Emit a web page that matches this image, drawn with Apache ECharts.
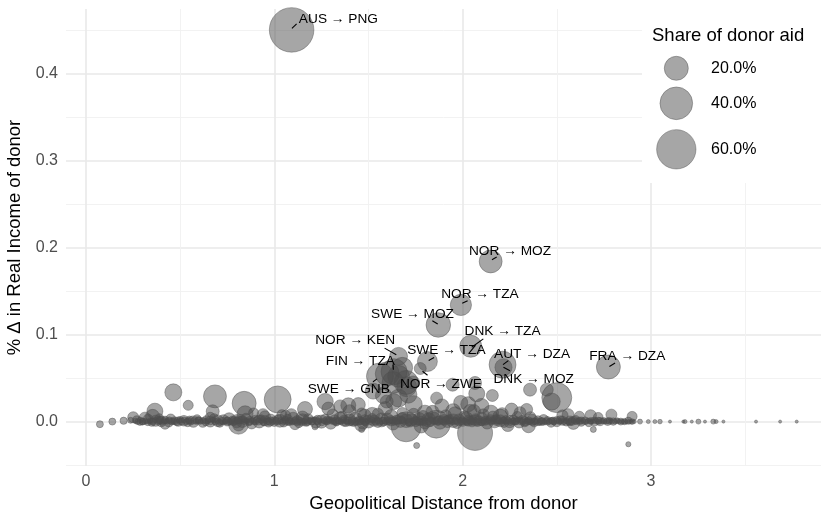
<!DOCTYPE html>
<html><head><meta charset="utf-8">
<script src="https://cdn.jsdelivr.net/npm/echarts@6/dist/echarts.min.js"></script>
<style>html,body{margin:0;padding:0;background:#fff}#c{width:821px;height:512px}</style>
</head><body><div id="c"></div>
<script>
// ---- data: [geopolitical distance, % change in real income of donor, share of donor aid (%)] ----
const labelNames = ['AUS → PNG','NOR → MOZ','NOR → TZA','SWE → MOZ','DNK → TZA','SWE → TZA','AUT → DZA','DNK → MOZ','FRA → DZA','NOR → KEN','FIN → TZA','SWE → GNB','NOR → ZWE'];
const labelX = [1.092, 2.149, 1.991, 1.871, 2.043, 1.813, 2.212, 2.217, 2.774, 1.660, 1.636, 1.561, 1.775];
const labelY = [0.450, 0.184, 0.134, 0.111, 0.0866, 0.069, 0.0654, 0.0625, 0.0627, 0.075, 0.0573, 0.052, 0.061];
const labelShare = [78.5, 18, 15, 21, 16.4, 13, 26, 9, 20, 10, 24, 26, 3.6];

const bubblePoints = [
 [0.074,-0.003,0.7],[0.14,0.000,0.7],[0.251,0.005,2.9],[0.237,0.0015,0.4],[0.287,-0.001,0.4],
 [0.313,0.004,3.6],[0.366,0.012,7.6],[0.354,0.006,5.5],[0.393,0.002,1.1],[0.464,0.0336,8.9],
 [0.543,0.0187,2.2],[0.685,0.029,18],[0.673,0.0118,4.5],[0.66,0.005,2.2],[0.84,0.021,20],
 [0.845,0.009,7.6],[0.81,-0.003,13],[0.89,0.010,2.2],[0.94,0.008,3.6],[1.018,0.0255,26],
 [1.04,0.008,2.2],[1.09,0.008,3.6],[1.163,0.0145,6.5],[1.216,-0.006,0.4],[1.27,0.023,8],
 [1.287,0.015,4.5],[1.35,0.0175,4.5],[1.393,0.0187,6.5],[1.40,0.012,4.5],[1.446,0.0195,5.5],
 [1.464,0.010,2.2],[1.464,-0.009,0.4],[1.525,0.035,7.6],[1.597,0.023,4.5],[1.59,0.015,5.5],
 [1.634,0.023,7.6],[1.66,0.027,10],[1.66,0.052,16],[1.70,0.045,20],[1.703,0.040,13],
 [1.712,0.031,8.9],[1.737,0.045,4.5],[1.70,-0.006,33],[1.756,-0.0275,0.4],[1.862,0.027,3.6],
 [1.86,-0.003,28],[1.89,0.018,5.5],[1.947,0.0424,4.5],[1.99,0.022,5.5],[2.066,0.0444,4.5],
 [2.075,0.032,7.6],[2.03,0.020,6.5],[2.10,0.018,6.5],[2.04,0.012,5.0],[2.158,0.030,3.6],
 [2.066,-0.013,46.6],[2.26,0.0138,4.5],[2.305,0.0103,3.6],[2.34,0.014,3.6],[2.358,0.0367,4.5],
 [2.447,0.0367,4.5],[2.473,0.023,9],[2.50,0.0275,33],[2.56,0.008,3.6],[2.588,-0.0015,4.5],
 [2.694,-0.009,0.4],[2.79,0.008,2.9],[2.90,0.006,2.2],[2.88,-0.026,0.2],
 [1.60,0.055,20],[1.68,0.062,14],[1.63,0.045,16],[1.58,0.030,8],[1.74,0.020,9],
 [1.52,0.008,6],[1.80,0.010,7],[1.95,0.012,6.5],[2.15,0.010,7],[2.20,0.006,6]
];

const bandPoints = [
 [0.20,0.001,0.8],[0.27,0.002,1.2],[0.30,0.000,0.6],[0.33,0.003,2.0],[0.35,-0.001,1.0],[0.37,0.001,3.0],
 [0.39,0.004,1.5],[0.40,0.000,2.4],[0.42,0.002,0.9],[0.44,-0.001,1.6],[0.45,0.003,2.2],[0.47,0.001,1.1],
 [0.49,0.000,1.8],[0.50,0.002,0.7],[0.52,0.001,2.6],[0.54,-0.001,1.3],[0.55,0.002,1.0],[0.57,0.000,3.2],
 [0.59,0.003,1.4],[0.60,0.001,0.8],[0.62,-0.001,2.0],[0.64,0.002,1.2],[0.66,0.000,2.8],[0.68,0.004,1.6],
 [0.70,0.001,3.4],[0.71,-0.002,1.1],[0.73,0.002,2.3],[0.75,0.000,1.5],[0.76,0.003,4.0],[0.78,0.001,1.9],
 [0.80,-0.001,2.7],[0.81,0.002,1.2],[0.83,0.000,3.6],[0.85,0.004,2.1],[0.87,0.001,1.4],[0.88,-0.002,3.0],
 [0.90,0.002,1.8],[0.92,0.000,4.2],[0.93,0.003,1.3],[0.95,0.001,2.5],[0.97,-0.001,1.7],[0.98,0.002,3.3],
 [1.00,0.000,2.0],[1.02,0.003,1.2],[1.03,0.001,4.4],[1.05,-0.001,1.6],[1.07,0.002,2.9],[1.08,0.000,1.1],
 [1.10,0.004,3.5],[1.12,0.001,2.2],[1.13,-0.002,1.4],[1.15,0.002,3.8],[1.17,0.000,1.9],[1.18,0.003,2.6],
 [1.20,0.001,1.0],[1.22,-0.001,3.1],[1.23,0.002,1.7],[1.25,0.000,4.6],[1.27,0.003,2.0],[1.28,0.001,1.3],
 [1.30,-0.002,3.4],[1.32,0.002,2.3],[1.33,0.000,1.5],[1.35,0.004,4.1],[1.37,0.001,2.8],[1.38,-0.001,1.2],
 [1.40,0.002,3.7],[1.42,0.000,2.0],[1.43,0.003,5.0],[1.45,0.001,1.6],[1.47,-0.002,3.2],[1.48,0.002,2.4],
 [1.50,0.000,4.3],[1.52,0.004,1.8],[1.53,0.001,3.0],[1.55,-0.001,2.2],[1.57,0.002,5.4],[1.58,0.000,1.4],
 [1.60,0.003,3.6],[1.62,0.001,2.5],[1.63,-0.002,4.8],[1.65,0.002,1.9],[1.67,0.000,3.3],[1.68,0.004,2.7],
 [1.70,0.001,5.2],[1.72,-0.001,1.7],[1.73,0.002,3.9],[1.75,0.000,2.3],[1.77,0.003,4.5],[1.78,0.001,1.5],
 [1.80,-0.002,3.1],[1.82,0.002,5.6],[1.83,0.000,2.0],[1.85,0.004,3.4],[1.87,0.001,1.8],[1.88,-0.001,4.9],
 [1.90,0.002,2.6],[1.92,0.000,3.7],[1.93,0.003,1.6],[1.95,0.001,5.1],[1.97,-0.002,2.4],[1.98,0.002,3.5],
 [2.00,0.000,1.9],[2.02,0.004,4.4],[2.03,0.001,2.8],[2.05,-0.001,1.5],[2.07,0.002,3.9],[2.08,0.000,2.1],
 [2.10,0.003,4.7],[2.12,0.001,1.7],[2.13,-0.002,3.2],[2.15,0.002,2.5],[2.17,0.000,4.0],[2.18,0.003,1.6],
 [2.20,0.001,3.6],[2.22,-0.001,2.2],[2.23,0.002,1.4],[2.25,0.000,3.8],[2.27,0.002,2.0],[2.28,0.001,1.2],
 [2.30,-0.001,2.9],[2.32,0.002,1.8],[2.33,0.000,2.4],[2.35,0.001,1.1],[2.37,0.002,3.0],[2.38,-0.001,1.5],
 [2.40,0.001,2.1],[2.42,0.000,1.0],[2.43,0.002,2.6],[2.45,0.001,1.3],[2.47,-0.001,1.9],[2.48,0.001,0.9],
 [2.50,0.000,2.3],[2.52,0.002,1.2],[2.53,0.001,1.7],[2.55,-0.001,0.8],[2.57,0.001,2.0],[2.58,0.000,1.1],
 [2.60,0.002,1.5],[2.62,0.001,0.7],[2.63,0.000,1.8],[2.65,0.001,1.0],[2.67,-0.001,1.3],[2.68,0.001,0.6],
 [2.70,0.000,1.6],[2.72,0.001,0.8],[2.73,0.000,1.2],[2.75,0.001,0.5],[2.77,0.000,1.0],[2.78,0.001,0.6],
 [2.80,0.000,0.9],[2.82,0.001,0.4],[2.84,0.000,0.7],[2.86,0.000,0.5],[2.88,0.001,0.8],[2.90,0.000,0.3],
 [0.95,0.006,3.0],[1.06,0.007,2.5],[1.15,0.005,4.0],[1.31,0.008,3.2],[1.36,0.006,2.4],[1.48,0.007,4.5],
 [1.55,0.009,3.0],[1.62,0.006,5.0],[1.68,0.010,2.8],[1.74,0.008,4.2],[1.79,0.006,3.5],[1.84,0.011,4.8],
 [1.91,0.007,3.2],[1.96,0.009,5.5],[2.01,0.006,2.9],[2.06,0.012,4.6],[2.11,0.008,3.4],[2.16,0.006,2.6],
 [2.21,0.009,3.8],[2.29,0.006,2.2],[2.36,0.005,3.0],[2.53,0.007,3.1],[2.62,0.006,2.4],[2.68,0.007,3.3],
 [2.72,0.005,2.0],[0.42,-0.003,2.2],[0.81,-0.004,3.5],[1.11,-0.003,2.8],[1.46,-0.004,4.0],[1.78,-0.005,5.5],
 [2.24,-0.004,4.4],[2.35,-0.005,5.0]
];

const corePoints = [
 [0.262,0.001,0.2],[0.276,0.000,0.4],[0.289,0.002,0.3],[0.301,0.000,0.6],[0.316,0.001,0.2],[0.328,-0.001,0.5],
 [0.341,0.001,0.3],[0.353,0.000,0.7],[0.367,0.002,0.2],[0.379,0.000,0.4],[0.392,0.001,0.6],[0.404,-0.001,0.3],
 [0.418,0.001,0.5],[0.431,0.000,0.2],[0.443,0.002,0.4],[0.457,0.000,0.6],[0.469,0.001,0.3],[0.482,-0.001,0.5],
 [0.494,0.001,0.2],[0.508,0.000,0.7],[0.521,0.002,0.3],[0.533,0.000,0.4],[0.546,0.001,0.6],[0.559,-0.001,0.2],
 [0.572,0.001,0.5],[0.584,0.000,0.3],[0.597,0.002,0.6],[0.611,0.000,0.2],[0.623,0.001,0.4],[0.636,-0.001,0.7],
 [0.648,0.001,0.3],[0.662,0.000,0.5],[0.674,0.002,0.2],[0.687,0.000,0.6],[0.699,0.001,0.4],[0.713,-0.001,0.3],
 [0.725,0.001,0.7],[0.738,0.000,0.2],[0.751,0.002,0.5],[0.763,0.000,0.4],[0.777,0.001,0.6],[0.789,-0.001,0.3],
 [0.802,0.001,0.5],[0.815,0.000,0.2],[0.828,0.002,0.7],[0.841,0.000,0.4],[0.853,0.001,0.3],[0.866,-0.001,0.6],
 [0.879,0.001,0.2],[0.892,0.000,0.5],[0.904,0.002,0.4],[0.917,0.000,0.7],[0.931,0.001,0.3],[0.943,-0.001,0.5],
 [0.956,0.001,0.2],[0.969,0.000,0.6],[0.982,0.002,0.4],[0.994,0.000,0.3],[1.008,0.001,0.7],[1.021,-0.001,0.2],
 [1.033,0.001,0.5],[1.046,0.000,0.4],[1.059,0.002,0.6],[1.072,0.000,0.3],[1.084,0.001,0.5],[1.097,-0.001,0.2],
 [1.111,0.001,0.7],[1.123,0.000,0.4],[1.136,0.002,0.3],[1.149,0.000,0.6],[1.162,0.001,0.2],[1.174,-0.001,0.5],
 [1.188,0.001,0.4],[1.201,0.000,0.7],[1.213,0.002,0.3],[1.226,0.000,0.5],[1.239,0.001,0.2],[1.252,-0.001,0.6],
 [1.264,0.001,0.4],[1.278,0.000,0.3],[1.291,0.002,0.7],[1.303,0.000,0.2],[1.316,0.001,0.5],[1.329,-0.001,0.4],
 [1.342,0.001,0.6],[1.354,0.000,0.3],[1.368,0.002,0.5],[1.381,0.000,0.2],[1.393,0.001,0.7],[1.406,-0.001,0.4],
 [1.419,0.001,0.3],[1.432,0.000,0.6],[1.444,0.002,0.2],[1.458,0.000,0.5],[1.471,0.001,0.4],[1.483,-0.001,0.7],
 [1.496,0.001,0.3],[1.509,0.000,0.5],[1.522,0.002,0.2],[1.534,0.000,0.6],[1.548,0.001,0.4],[1.561,-0.001,0.3],
 [1.573,0.001,0.7],[1.586,0.000,0.2],[1.599,0.002,0.5],[1.612,0.000,0.4],[1.624,0.001,0.6],[1.638,-0.001,0.3],
 [1.651,0.001,0.5],[1.663,0.000,0.2],[1.676,0.002,0.7],[1.689,0.000,0.4],[1.702,0.001,0.3],[1.714,-0.001,0.6],
 [1.728,0.001,0.2],[1.741,0.000,0.5],[1.753,0.002,0.4],[1.766,0.000,0.7],[1.779,0.001,0.3],[1.792,-0.001,0.5],
 [1.804,0.001,0.2],[1.818,0.000,0.6],[1.831,0.002,0.4],[1.843,0.000,0.3],[1.856,0.001,0.7],[1.869,-0.001,0.2],
 [1.882,0.001,0.5],[1.894,0.000,0.4],[1.908,0.002,0.6],[1.921,0.000,0.3],[1.933,0.001,0.5],[1.946,-0.001,0.2],
 [1.959,0.001,0.7],[1.972,0.000,0.4],[1.984,0.002,0.3],[1.998,0.000,0.6],[2.011,0.001,0.2],[2.023,-0.001,0.5],
 [2.036,0.001,0.4],[2.049,0.000,0.7],[2.062,0.002,0.3],[2.074,0.000,0.5],[2.088,0.001,0.2],[2.101,-0.001,0.6],
 [2.113,0.001,0.4],[2.126,0.000,0.3],[2.139,0.002,0.7],[2.152,0.000,0.2],[2.164,0.001,0.5],[2.178,-0.001,0.4],
 [2.191,0.001,0.6],[2.203,0.000,0.3],[2.216,0.002,0.5],[2.229,0.000,0.2],[2.242,0.001,0.7],[2.254,-0.001,0.4],
 [2.268,0.001,0.3],[2.281,0.000,0.6],[2.293,0.002,0.2],[2.306,0.000,0.5],[2.319,0.001,0.4],[2.332,-0.001,0.7],
 [2.344,0.001,0.3],[2.358,0.000,0.5],[2.371,0.001,0.2],[2.383,0.000,0.6],[2.396,0.001,0.4],[2.409,-0.001,0.3],
 [2.422,0.001,0.5],[2.434,0.000,0.2],[2.448,0.001,0.4],[2.461,0.000,0.3],[2.473,0.001,0.5],[2.486,-0.001,0.2],
 [2.499,0.001,0.4],[2.512,0.000,0.3],[2.524,0.001,0.2],[2.538,0.000,0.4],[2.551,0.001,0.3],[2.563,-0.001,0.2],
 [2.576,0.000,0.4],[2.589,0.001,0.2],[2.602,0.000,0.3],[2.614,0.001,0.2],[2.628,0.000,0.3],[2.641,0.001,0.1],
 [2.653,0.000,0.2],[2.666,0.001,0.1],[2.679,0.000,0.2],[2.692,0.000,0.1],[2.704,0.001,0.2],[2.718,0.000,0.1],
 [2.731,0.000,0.1],[2.743,0.001,0.2],[2.756,0.000,0.1],[2.769,0.000,0.1],[2.782,0.001,0.1],[2.794,0.000,0.1],
 [2.808,0.000,0.1],[2.821,0.001,0.1],[2.833,0.000,0.1],[2.846,0.000,0.1],[2.859,0.000,0.1],[2.872,0.000,0.05],
 [2.884,0.000,0.05],[2.897,0.000,0.05],[2.911,0.000,0.05]
];

const tailPoints = [
 [2.942,0.0,0.17],[2.986,0.0,0.04],[3.021,0.0,0.04],[3.048,0.0,0.1],[3.101,0.0,0.0],[3.172,0.0,0.0],
 [3.181,0.0,0.04],[3.217,0.0,0.0],[3.252,0.0,0.17],[3.287,0.0,0.0],[3.331,0.0,0.17],[3.346,0.0,0.04],
 [3.385,0.0,0.0],[3.558,0.0,0.0],[3.686,0.0,0.0],[3.774,0.0,0.0]
];

const legendBreaks = [20, 40, 60];

// ---- styling / layout ----
const FONT = '"Liberation Sans", Arial, sans-serif';
const FILL = 'rgba(77,77,77,0.5)';
const EDGE = 'rgba(77,77,77,0.55)';
function sizeOf(share) { return 2 * (1.53 + 2.34 * Math.sqrt(Math.max(share, 0))); }

const labelLayout = {
 'AUS → PNG': {t:[46.8,-10.5], s:[0.3,-1.5,5,-6]},
 'NOR → MOZ': {t:[19.3,-10.7], s:[1.3,-1.7,6,-4.4]},
 'NOR → TZA': {t:[19,-11], s:[1.3,-1.7,6.7,-4.3]},
 'SWE → MOZ': {t:[-25.8,-10.7], s:[-6,-4.3,-0.6,-1]},
 'DNK → TZA': {t:[31.8,-15], s:[1,1,12.6,-7.4]},
 'SWE → TZA': {t:[19,-11], s:[1.3,-1,6.7,-4]},
 'AUT → DZA': {t:[29.5,-10.7], s:[0.5,0,5.8,-4]},
 'DNK → MOZ': {t:[30.2,11.8], s:[0,0,6.5,3.5]},
 'FRA → DZA': {t:[18.9,-10.6], s:[1,-0.6,6.7,-4]},
 'NOR → KEN': {t:[-43.5,-15.8], s:[-14,-8.2,-2.3,-1.5]},
 'FIN → TZA': {t:[-33.7,-11], s:[-1,-7,-0.7,-2]},
 'SWE → GNB': {t:[-31.2,12.8], s:[-7,5.5,-3,2.5]},
 'NOR → ZWE': {t:[20.7,16], s:[2.3,2.7,7.3,6.7]}
};

const labeledData = labelNames.map((n, i) => [labelX[i], labelY[i], labelShare[i]]);
const allPoints = corePoints.concat(bandPoints, bubblePoints, tailPoints, labeledData);

const chart = echarts.init(document.getElementById('c'), null, {renderer: 'canvas'});

const legendGraphics = [
 {type:'rect', left:642, top:8, shape:{width:180, height:175}, style:{fill:'#ffffff'}, z:1, silent:true},
 {type:'text', left:652, top:26, style:{text:'Share of donor aid', fontSize:18.5, fontFamily:FONT, fill:'#000'}, z:2, silent:true}
];
const legendY = [68.3, 103.3, 149.3];
legendBreaks.forEach((b, i) => {
  const r = sizeOf(b) / 2;
  legendGraphics.push({type:'circle', shape:{cx:676.3, cy:legendY[i], r:r}, style:{fill:FILL, stroke:EDGE, lineWidth:0.8}, z:2, silent:true});
  legendGraphics.push({type:'text', x:711, y:legendY[i], style:{text:b.toFixed(1)+'%', fontSize:16, fontFamily:FONT, fill:'#000', verticalAlign:'middle', align:'left'}, z:2, silent:true});
});

chart.setOption({
  animation: false,
  backgroundColor: '#ffffff',
  grid: {left:66, right:0, top:9, bottom:46, containLabel:false, outerBoundsMode:'none'},
  xAxis: {
    type:'value', min:-0.106, max:3.903, splitNumber:5,
    name:'Geopolitical Distance from donor', nameLocation:'middle', nameGap:25,
    nameTextStyle:{fontSize:18.5, fontFamily:FONT, color:'#000'},
    axisLine:{show:false}, axisTick:{show:false},
    axisLabel:{show:true, showMinLabel:false, showMaxLabel:false, fontSize:16, fontFamily:FONT, color:'#4d4d4d', margin:8,
      formatter: v => String(Math.round(v))},
    splitLine:{show:true, showMinLine:false, showMaxLine:false, lineStyle:{color:'#e9e9e9', width:1.6}},
    minorTick:{show:false, splitNumber:2},
    minorSplitLine:{show:true, lineStyle:{color:'#f0f0f0', width:0.9}}
  },
  yAxis: {
    type:'value', min:-0.051, max:0.474, splitNumber:5,
    name:'% Δ in Real Income of donor', nameLocation:'middle', nameGap:31,
    nameTextStyle:{fontSize:18.5, fontFamily:FONT, color:'#000'},
    axisLine:{show:false}, axisTick:{show:false},
    axisLabel:{show:true, showMinLabel:false, showMaxLabel:false, fontSize:16, fontFamily:FONT, color:'#4d4d4d', margin:8,
      formatter: v => v.toFixed(1)},
    splitLine:{show:true, showMinLine:false, showMaxLine:false, lineStyle:{color:'#e9e9e9', width:1.6}},
    minorTick:{show:false, splitNumber:2},
    minorSplitLine:{show:true, lineStyle:{color:'#f0f0f0', width:0.9}}
  },
  graphic: legendGraphics,
  series: [
    {
      type:'scatter', data: allPoints, silent:true, z:3, large:false,
      symbol:'circle', symbolSize: v => sizeOf(v[2]),
      itemStyle:{color:FILL, borderColor:EDGE, borderWidth:0.8, opacity:1},
      emphasis:{disabled:true}
    },
    {
      type:'custom', data: labeledData, silent:true, z:4,
      renderItem: function (params, api) {
        const name = labelNames[params.dataIndex];
        const lay = labelLayout[name];
        const p = api.coord([api.value(0), api.value(1)]);
        return {type:'group', children:[
          {type:'line', shape:{x1:p[0]+lay.s[0], y1:p[1]+lay.s[1], x2:p[0]+lay.s[2], y2:p[1]+lay.s[3]}, style:{stroke:'#000', lineWidth:1.1}},
          {type:'text', x:p[0]+lay.t[0], y:p[1]+lay.t[1], style:{text:name, fontSize:13.7, fontFamily:FONT, fill:'#000', align:'center', verticalAlign:'middle'}}
        ]};
      }
    }
  ]
});
</script></body></html>
